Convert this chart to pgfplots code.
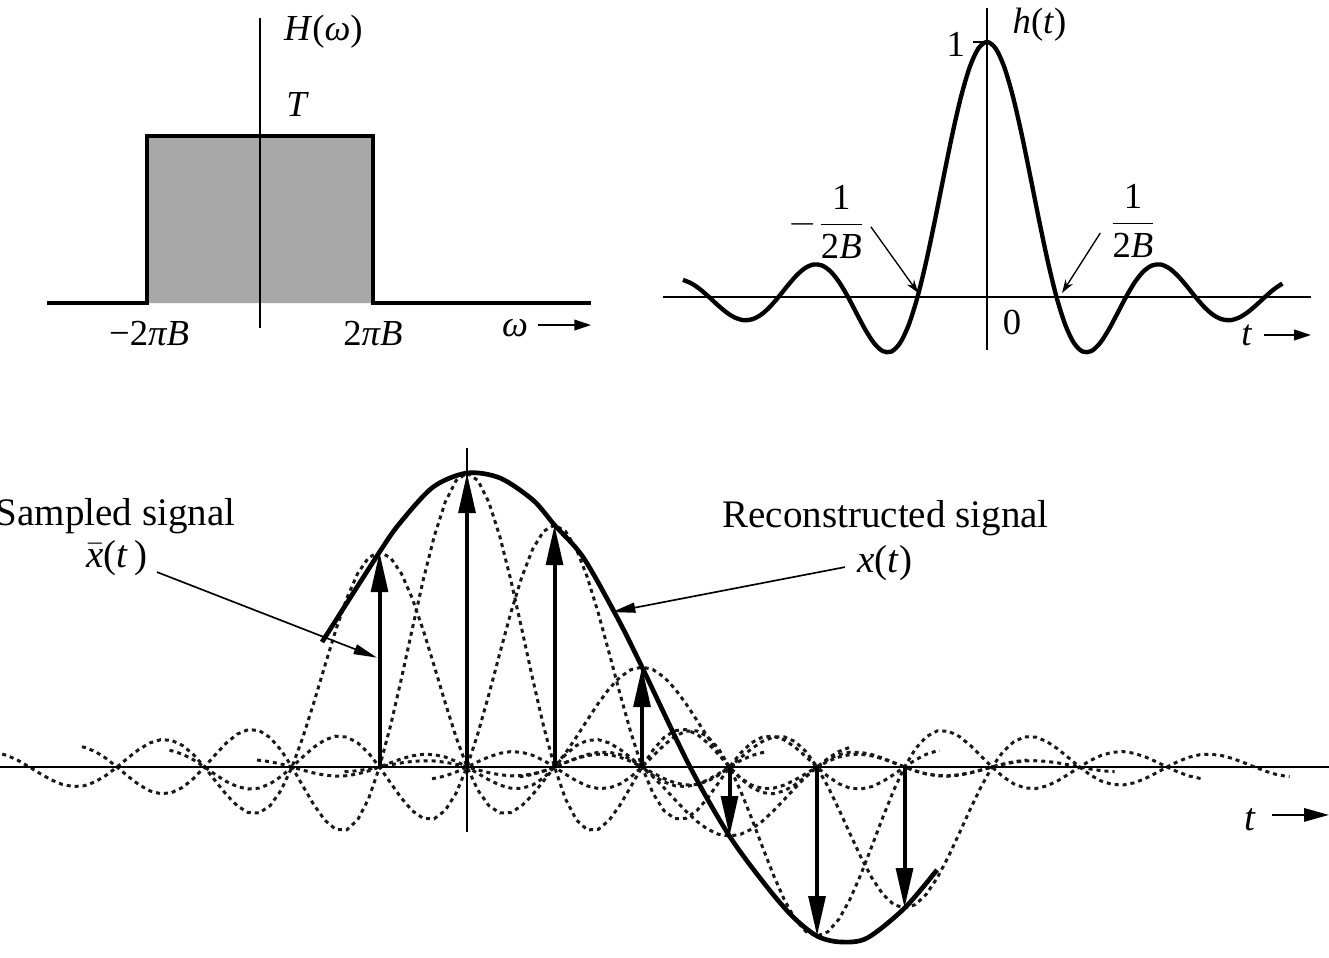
\documentclass[border=0pt]{standalone}
\usepackage{fontspec}
\setmainfont{Liberation Serif}
\usepackage{pgfplots}
\pgfplotsset{compat=1.18}
\usepackage{pgfplotstable}
\usetikzlibrary{arrows.meta}

% normalized sinc shape, sin(pi u)/(pi u)
\pgfplotstableread{
u s
-4.4 0.06880
-4.375 0.06722
-4.25 0.05296
-4.125 0.02953
-4.0 0
-3.875 -0.03144
-3.75 -0.06002
-3.625 -0.08113
-3.5 -0.09095
-3.375 -0.08714
-3.25 -0.06926
-3.125 -0.03898
-3.0 0
-2.875 0.04237
-2.75 0.08185
-2.625 0.11203
-2.5 0.12732
-2.375 0.12382
-2.25 0.10004
-2.125 0.05732
-2.0 0
-1.875 -0.06497
-1.75 -0.12862
-1.625 -0.18097
-1.5 -0.21221
-1.375 -0.21388
-1.25 -0.18006
-1.125 -0.10828
-1.0 0
-0.875 0.13921
-0.75 0.30011
-0.625 0.47053
-0.5 0.63662
-0.375 0.78421
-0.25 0.90032
-0.125 0.97450
0 1
0.125 0.97450
0.25 0.90032
0.375 0.78421
0.5 0.63662
0.625 0.47053
0.75 0.30011
0.875 0.13921
1.0 0
1.125 -0.10828
1.25 -0.18006
1.375 -0.21388
1.5 -0.21221
1.625 -0.18097
1.75 -0.12862
1.875 -0.06497
2.0 0
2.125 0.05732
2.25 0.10004
2.375 0.12382
2.5 0.12732
2.625 0.11203
2.75 0.08185
2.875 0.04237
3.0 0
3.125 -0.03898
3.25 -0.06926
3.375 -0.08714
3.5 -0.09095
3.625 -0.08113
3.75 -0.06002
3.875 -0.03144
4.0 0
4.125 0.02953
4.25 0.05296
4.375 0.06722
4.4 0.06880
}\sinctab

% reconstructed signal x(t)
\pgfplotstableread{
t x
-1.657 0.425
-1.0 0.731
-0.766 0.830
-0.389 0.952
0 1.0
0.377 0.983
0.754 0.908
1.0 0.823
1.326 0.714
1.714 0.510
2.0 0.340
2.549 0.0
3.0 -0.235
3.429 -0.408
3.726 -0.510
4.0 -0.575
4.263 -0.595
4.571 -0.582
5.0 -0.480
5.371 -0.350
}\recon

% samples
\pgfplotstableread{
t v
-1 0.731
0 1.0
1 0.823
2 0.340
3 -0.235
4 -0.575
5 -0.480
}\samples

\newcommand\tl{\fontsize{11}{13}\selectfont}
\newcommand\bl{\fontsize{11.7}{14}\selectfont}

\begin{document}
\begin{tikzpicture}
\useasboundingbox (0,0) rectangle (398.7pt,287.1pt);

% ---------------- top-left: H(omega)
\begin{axis}[at={(14.1pt,186.18pt)}, anchor=south west, scale only axis,
  width=163.2pt, height=97.695pt, xmin=-1.885, xmax=2.93, ymin=-0.2, ymax=1.75,
  hide axis, clip=false]
\addplot[draw=none, fill=black!34] coordinates {(-1,0)(-1,1)(1,1)(1,0)} \closedcycle;
\draw[line width=0.5pt] (axis cs:0,-0.15) -- (axis cs:0,1.707);
\addplot[line width=1.2pt, line join=miter, mark=none] coordinates {(-1.885,0)(-1,0)(-1,1)(1,1)(1,0)(2.93,0)};
\node[anchor=west, font=\tl] at (axis cs:0.11,1.623) {\textit{H}(\textit{ω})};
\node[anchor=west, font=\tl] at (axis cs:0.13,1.186) {\textit{T}};
\node[font=\tl] at (axis cs:-0.982,-0.18) {−2\textit{πB}};
\node[font=\tl] at (axis cs:1.0,-0.18) {2\textit{πB}};
\node[font=\tl] at (axis cs:2.257,-0.15) {\textit{ω}};
\draw[line width=0.5pt, -{Triangle[length=5pt,width=3.2pt]}] (axis cs:2.46,-0.132) -- (axis cs:2.93,-0.132);
\end{axis}

% ---------------- top-right: h(t)
\begin{axis}[at={(198.105pt,175.05pt)}, anchor=south west, scale only axis,
  width=202.245pt, height=110.925pt, xmin=-4.7, xmax=5.0, ymin=-0.3, ymax=1.15,
  hide axis, clip=false]
\draw[line width=0.5pt] (axis cs:-4.66,0) -- (axis cs:4.66,0);
\draw[line width=0.5pt] (axis cs:0,-0.208) -- (axis cs:0,1.133);
\addplot[line width=1.3pt, smooth, mark=none, restrict x to domain=-4.376:4.26] table[x=u, y=s] {\sinctab};
\draw[line width=0.5pt] (axis cs:-0.2,1) -- (axis cs:0,1);
\node[font=\tl] at (axis cs:-0.45,0.99) {1};
\node[anchor=west, font=\tl] at (axis cs:0.2,1.067) {\textit{h}(\textit{t})};
\node[font=\tl] at (axis cs:0.36,-0.098) {0};
\node[font=\tl] at (axis cs:3.74,-0.149) {\textit{t}};
\draw[line width=0.5pt, -{Triangle[length=5pt,width=3.2pt]}] (axis cs:3.98,-0.149) -- (axis cs:4.66,-0.149);
\node[font=\tl] at (axis cs:-2.3,0.294) {$-\displaystyle\frac{\mbox{1}}{\mbox{2\textit{B}}}$};
\node[font=\tl] at (axis cs:2.1,0.298) {$\displaystyle\frac{\mbox{1}}{\mbox{2\textit{B}}}$};
\draw[line width=0.4pt, -{Stealth[length=4pt,width=2.6pt]}] (axis cs:-1.67,0.275) -- (axis cs:-0.99,0.016);
\draw[line width=0.4pt, -{Stealth[length=4pt,width=2.6pt]}] (axis cs:1.63,0.251) -- (axis cs:1.08,0.016);
\end{axis}

% ---------------- bottom: reconstruction
\begin{axis}[at={(0pt,-0.33pt)}, anchor=south west, scale only axis,
  width=398.7pt, height=156.114pt, xmin=-5.337, xmax=9.851, ymin=-0.65, ymax=1.12,
  hide axis, clip=false]
\pgfplotsset{dotsinc/.style={black!90, line width=0.9pt, dash pattern=on 1.2pt off 1.2pt, mark=none}}
\addplot[dotsinc] table[x expr=\thisrow{u}-1, y expr=0.731*\thisrow{s}] {\sinctab};
\addplot[dotsinc] table[x expr=\thisrow{u}, y expr=1.0*\thisrow{s}] {\sinctab};
\addplot[dotsinc] table[x expr=\thisrow{u}+1, y expr=0.823*\thisrow{s}] {\sinctab};
\addplot[dotsinc] table[x expr=\thisrow{u}+2, y expr=0.340*\thisrow{s}] {\sinctab};
\addplot[dotsinc] table[x expr=\thisrow{u}+3, y expr=-0.235*\thisrow{s}] {\sinctab};
\addplot[dotsinc] table[x expr=\thisrow{u}+4, y expr=-0.575*\thisrow{s}] {\sinctab};
\addplot[dotsinc] table[x expr=\thisrow{u}+5, y expr=-0.480*\thisrow{s}] {\sinctab};
\draw[line width=0.6pt] (axis cs:-5.337,0) -- (axis cs:9.851,0);
\draw[line width=0.5pt] (axis cs:0,-0.221) -- (axis cs:0,1.085);
\addplot[line width=1.2pt, mark=none, quiver={u=0, v=\thisrow{v}},
  -{Triangle[length=12pt,width=5pt]}] table[x=t, y expr=0] {\samples};
\addplot[line width=1.4pt, smooth, mark=none] table[x=t, y=x] {\recon};
\node[anchor=east, inner sep=0pt, font=\bl] at (axis cs:-2.64,0.852) {Sampled signal};
\node[font=\bl, inner sep=0pt] at (axis cs:-4.0,0.712) {$\bar{\mbox{\textit{x}}}$(\textit{t}\,)};
\draw[line width=0.5pt, -{Triangle[length=7pt,width=3pt]}] (axis cs:-3.543,0.663) -- (axis cs:-1.03,0.372);
\node[anchor=west, inner sep=0pt, font=\bl] at (axis cs:2.914,0.847) {Reconstructed signal};
\node[font=\bl, inner sep=0pt] at (axis cs:4.777,0.694) {\textit{x}(\textit{t})};
\draw[line width=0.5pt, -{Triangle[length=7pt,width=3pt]}] (axis cs:4.32,0.680) -- (axis cs:1.657,0.527);
\node[font=\bl] at (axis cs:8.95,-0.180) {\textit{t}};
\draw[line width=0.6pt, -{Triangle[length=7.5pt,width=4pt]}] (axis cs:9.2,-0.163) -- (axis cs:9.851,-0.163);
\end{axis}
\end{tikzpicture}
\end{document}
